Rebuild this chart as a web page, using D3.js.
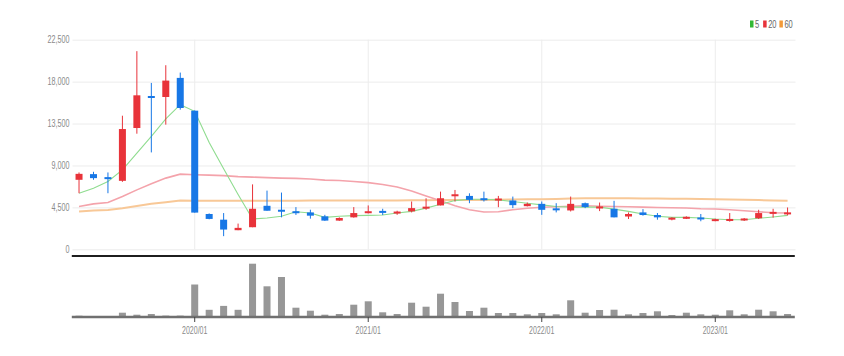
<!DOCTYPE html>
<html><head><meta charset="utf-8">
<script src="https://cdn.jsdelivr.net/npm/d3@7"></script>
<style>html,body{margin:0;padding:0;background:#fff;} svg{display:block;}</style>
</head><body>
<svg id="chart" width="844" height="356"></svg>
<script>
const months = ["2019/05","2019/06","2019/07","2019/08","2019/09","2019/10","2019/11","2019/12",
"2020/01","2020/02","2020/03","2020/04","2020/05","2020/06","2020/07","2020/08","2020/09","2020/10","2020/11","2020/12",
"2021/01","2021/02","2021/03","2021/04","2021/05","2021/06","2021/07","2021/08","2021/09","2021/10","2021/11","2021/12",
"2022/01","2022/02","2022/03","2022/04","2022/05","2022/06","2022/07","2022/08","2022/09","2022/10","2022/11","2022/12",
"2023/01","2023/02","2023/03","2023/04","2023/05","2023/06"];
const open  = [7460,8070,7710,7350,13020,16420,16350,18400,14880,3790,3180,2050,2370,4670,4210,4070,3960,3540,3080,3430,
3890,4100,3890,4070,4380,4710,5730,5730,5450,5270,5240,4630,4880,4380,4170,4950,4380,4350,3520,3960,3680,3200,3290,3400,
3040,3040,3110,3330,3820,3750];
const high  = [8250,8320,8250,14340,21270,17860,19760,18970,14900,3850,3890,2760,6970,6300,6090,4530,4250,3700,3430,4530,
4710,4350,4140,5130,5480,6190,6370,6010,6190,5730,5660,5020,5130,4950,5660,5020,5020,5200,3960,4310,3890,3430,3540,3790,
3290,3890,3360,4240,4350,4490];
const low   = [6020,7460,6020,7240,12410,10400,13380,14990,3940,3220,1410,2050,2370,4140,3430,3690,3290,3050,3050,3400,
3850,3680,3700,3960,4240,4710,5130,4950,5130,4520,4420,4600,3700,3960,4060,4420,4100,3430,3250,3610,3180,3110,3250,3010,
3010,2970,3040,3250,3400,3640];
const close = [8100,7640,7570,12910,16530,16280,18110,15170,3940,3260,2120,2300,4350,4140,4070,3890,3610,3080,3360,3890,
4070,3930,4000,4420,4560,5480,5870,5310,5300,5410,4740,4880,4240,4200,4880,4530,4600,3430,3790,3680,3430,3380,3470,3220,
3220,3260,3290,3890,4000,3960];
const volume = [13000,0,0,43000,23000,30000,14000,14000,325000,72000,111000,72000,533000,307000,400000,93000,63000,23000,30000,123000,
157000,47000,30000,143000,103000,233000,150000,60000,93000,40000,40000,27000,40000,27000,167000,43000,70000,73000,27000,40000,
57000,20000,43000,27000,23000,67000,27000,73000,57000,30000];
const ma5  = [6020,6560,7280,8530,10330,12120,13990,15530,14810,11460,8650,5890,3260,3360,3540,4030,3890,3430,3540,3610,
3640,3680,3890,4070,4420,4840,5230,5380,5380,5310,5130,4950,4770,4600,4530,4530,4530,4310,4070,3790,3540,3430,3430,3360,
3250,3180,3180,3330,3470,3640];
const ma20 = [4590,4880,5020,5670,6380,7030,7640,8070,8010,7960,7910,7800,7750,7690,7640,7610,7540,7430,7380,7270,
7160,6950,6690,6260,5730,5200,4670,4250,4000,4030,4250,4400,4510,4560,4620,4670,4620,4600,4560,4530,4490,4460,4430,4350,
4320,4250,4140,4030,3930,3900];
const ma60 = [4050,4160,4230,4410,4660,4880,5060,5240,5200,5210,5210,5220,5220,5220,5220,5220,5230,5230,5230,5230,
5240,5240,5250,5260,5270,5280,5290,5300,5300,5320,5340,5360,5380,5410,5450,5470,5480,5480,5470,5460,5450,5430,5420,5400,
5380,5350,5320,5280,5240,5200];
const priceTicks = [0,4500,9000,13500,18000,22500];
const xTickLabels = ["2020/01","2021/01","2022/01","2023/01"];
const legendLabels = ["5","20","60"];
const maColors = ["#8fdc8f","#f4a3ab","#f8c897"];
const legendColors = ["#33b833","#e8333a","#f39a38"];
const upColor = "#e8333a", downColor = "#1777e6";

const svg = d3.select("#chart");
const X0 = 71.8, X1 = 794.8;
const x = d3.scaleBand().domain(months).range([X0, X1]).padding(0);
const cx = m => x(m) + x.bandwidth() / 2;
const y = d3.scaleLinear().domain([0, 22500]).range([249.3, 39.7]);
const vy = d3.scaleLinear().domain([0, 533000]).range([317, 263.7]);
const FONT = "'Liberation Sans', Arial, sans-serif";
function squeeze(sel, f) {
  sel.each(function(){ const L = this.getComputedTextLength(); this.setAttribute("textLength", L * f); this.setAttribute("lengthAdjust", "spacingAndGlyphs"); });
}

// y axis + grid
const ya = svg.append("g").attr("transform", `translate(${X0 + 0.7},0)`)
  .call(d3.axisLeft(y).tickValues(priceTicks).tickFormat(d3.format(",")).tickSize(-(X1 - X0)).tickPadding(3));
ya.select(".domain").remove();
ya.selectAll(".tick line").attr("stroke", "#ececec");
ya.selectAll(".tick text").attr("fill", "#8a8a8a").style("font-family", FONT).style("font-size", "10px").call(squeeze, 0.72);

// vertical year grid lines
svg.append("g").selectAll("line").data(xTickLabels).join("line")
  .attr("x1", d => cx(d)).attr("x2", d => cx(d)).attr("y1", y(22500)).attr("y2", y(0))
  .attr("stroke", "#ececec");

// MA lines
const mas = [ma5, ma20, ma60];
const widths = [1.1, 1.6, 2];
[2,1,0].forEach(k => {
  svg.append("path").datum(mas[k])
    .attr("fill", "none").attr("stroke", maColors[k]).attr("stroke-width", widths[k])
    .attr("d", d3.line().x((d, i) => cx(months[i])).y(d => y(d)));
});

// candles
const cg = svg.append("g");
months.forEach((m, i) => {
  const col = close[i] >= open[i] ? upColor : downColor;
  cg.append("line").attr("x1", cx(m)).attr("x2", cx(m)).attr("y1", y(high[i])).attr("y2", y(low[i]))
    .attr("stroke", col).attr("stroke-width", 1);
  const top = y(Math.max(open[i], close[i])), bot = y(Math.min(open[i], close[i]));
  const h = Math.max(2, bot - top);
  cg.append("rect").attr("x", cx(m) - 3.5).attr("width", 7)
    .attr("y", (top + bot) / 2 - h / 2).attr("height", h).attr("fill", col);
});

// separator
svg.append("line").attr("x1", X0).attr("x2", X1).attr("y1", 256).attr("y2", 256)
  .attr("stroke", "#1e1e1e").attr("stroke-width", 2);

// volume bars
svg.append("g").selectAll("rect").data(volume).join("rect")
  .attr("x", (d, i) => cx(months[i]) - 3.5).attr("width", 7)
  .attr("y", d => vy(d)).attr("height", d => vy(0) - vy(d)).attr("fill", "#979797");
svg.append("line").attr("x1", X0).attr("x2", X1).attr("y1", 317).attr("y2", 317)
  .attr("stroke", "#707070").attr("stroke-width", 2.5);

// x axis
const xa = svg.append("g").attr("transform", "translate(0,317)")
  .call(d3.axisBottom(x).tickValues(xTickLabels).tickSize(5).tickPadding(5));
xa.select(".domain").remove();
xa.selectAll(".tick line").attr("stroke", "#444");
xa.selectAll(".tick text").attr("fill", "#8a8a8a").style("font-family", FONT).style("font-size", "10px").call(squeeze, 0.7);

// legend
const lg = svg.append("g").attr("transform", "translate(750,0)");
let lx = 0;
legendLabels.forEach((t, k) => {
  lg.append("rect").attr("x", lx).attr("y", 20.5).attr("width", 3.5).attr("height", 7).attr("fill", legendColors[k]);
  const tx = lg.append("text").attr("x", lx + 5).attr("y", 27.5).text(t)
    .attr("fill", "#666").style("font-family", FONT).style("font-size", "10px");
  tx.call(squeeze, 0.75);
  lx += 5 + tx.node().getComputedTextLength() * 0.75 + 5;
});
</script>
</body></html>
